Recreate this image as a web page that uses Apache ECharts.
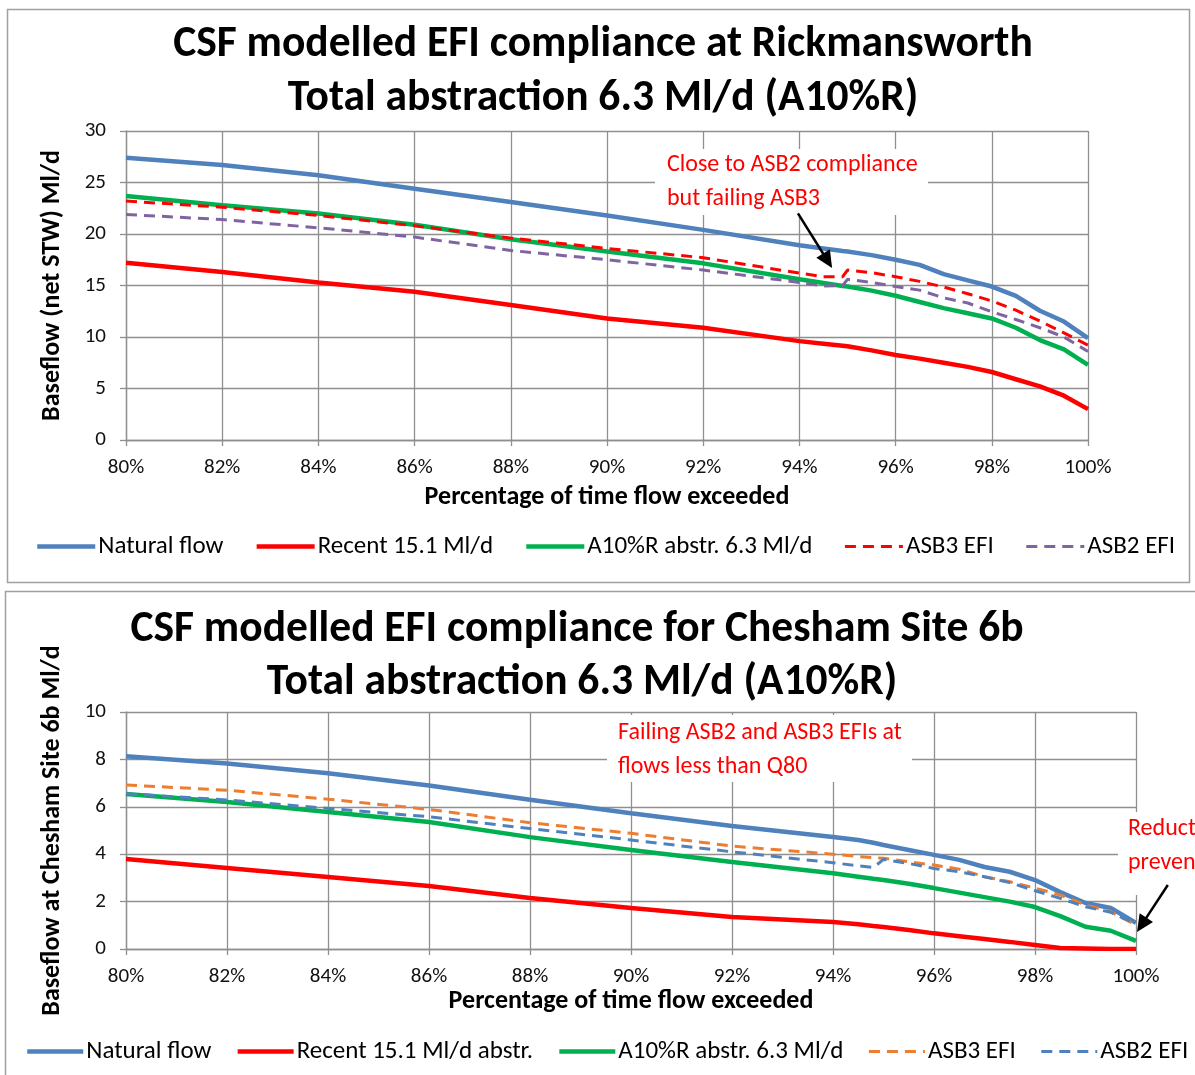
<!DOCTYPE html>
<html>
<head>
<meta charset="utf-8">
<script src="https://cdn.jsdelivr.net/npm/echarts@6/dist/echarts.min.js"></script>
<style>
  html, body { margin: 0; padding: 0; background: #fff; }
  #top, #bottom { position: absolute; left: 0; width: 1195px; }
  #top { top: 0; height: 587px; }
  #bottom { top: 587px; height: 488px; }
</style>
</head>
<body>
<div id="top"></div>
<div id="bottom"></div>
<script>
// ---- Rickmansworth: baseflow (net STW), Ml/d, against % of time exceeded ----
const rickPct     = [80, 82, 84, 86, 88, 90, 92, 94, 94.5, 94.9, 95, 95.5, 96, 96.5, 97, 97.5, 98, 98.5, 99, 99.5, 100];
const rickNatural = [27.4, 26.7, 25.7, 24.4, 23.1, 21.8, 20.4, 18.9, 18.6, 18.35, 18.3, 17.95, 17.5, 17.0, 16.1, 15.5, 14.9, 14.0, 12.55, 11.5, 9.9];
const rickRecent  = [17.2, 16.3, 15.3, 14.4, 13.1, 11.8, 10.9, 9.6, 9.35, 9.15, 9.1, 8.7, 8.25, 7.9, 7.5, 7.1, 6.6, 5.9, 5.2, 4.3, 3.0];
const rickA10R    = [23.7, 22.8, 22.0, 20.9, 19.5, 18.3, 17.15, 15.6, 15.25, 14.95, 14.9, 14.5, 14.0, 13.4, 12.8, 12.3, 11.8, 10.9, 9.7, 8.8, 7.3];
const rickAsb3    = [23.2, 22.6, 21.8, 20.8, 19.6, 18.6, 17.7, 16.2, 15.85, 15.85, 16.5, 16.25, 15.85, 15.4, 14.85, 14.2, 13.5, 12.6, 11.55, 10.4, 9.2];
const rickAsb2    = [21.9, 21.4, 20.6, 19.7, 18.4, 17.5, 16.5, 15.3, 14.95, 15.0, 15.6, 15.3, 14.9, 14.55, 13.8, 13.3, 12.45, 11.7, 10.9, 10.0, 8.6];

// ---- Chesham Site 6b: baseflow, Ml/d ----
const chesPct     = [80, 82, 84, 86, 88, 90, 92, 94, 94.5, 94.8, 95, 95.5, 96, 96.5, 97, 97.5, 98, 98.5, 99, 99.5, 100];
const chesNatural = [8.13, 7.83, 7.42, 6.9, 6.3, 5.73, 5.19, 4.73, 4.6, 4.48, 4.39, 4.18, 3.97, 3.76, 3.46, 3.26, 2.91, 2.4, 1.94, 1.73, 1.1];
const chesRecent  = [3.8, 3.42, 3.04, 2.66, 2.15, 1.73, 1.35, 1.14, 1.04, 0.97, 0.93, 0.8, 0.66, 0.54, 0.42, 0.3, 0.17, 0.04, 0.02, 0, 0];
const chesA10R    = [6.54, 6.2, 5.78, 5.36, 4.72, 4.18, 3.67, 3.2, 3.05, 2.96, 2.91, 2.75, 2.57, 2.38, 2.19, 2.0, 1.77, 1.39, 0.94, 0.77, 0.34];
const chesAsb3    = [6.92, 6.7, 6.32, 5.89, 5.33, 4.88, 4.34, 4.0, 3.9, 3.85, 3.83, 3.68, 3.54, 3.37, 3.05, 2.84, 2.57, 2.28, 1.86, 1.57, 1.01];
const chesAsb2    = [6.55, 6.29, 5.93, 5.58, 5.08, 4.6, 4.1, 3.64, 3.51, 3.44, 3.78, 3.61, 3.4, 3.26, 3.05, 2.8, 2.46, 2.14, 1.78, 1.55, 1.05];

// ---- series names (legend text) ----
const rickNames = ['Natural flow', 'Recent 15.1 Ml/d', 'A10%R abstr. 6.3 Ml/d', 'ASB3 EFI', 'ASB2 EFI'];
const chesNames = ['Natural flow', 'Recent 15.1 Ml/d abstr.', 'A10%R abstr. 6.3 Ml/d', 'ASB3 EFI', 'ASB2 EFI'];

const FONT = 'Carlito, Lato, "Open Sans", sans-serif';
const GRID_GREY = '#8f8f8f';

function pairs(xs, ys) { return xs.map((x, i) => [x, ys[i]]); }

function lineSeries(name, xs, ys, color, dashed) {
  return {
    name: name,
    type: 'line',
    data: pairs(xs, ys),
    showSymbol: false,
    symbol: 'none',
    smooth: false,
    animation: false,
    lineStyle: dashed
      ? { color: color, width: 3, type: [11, 7] }
      : { color: color, width: 4.5 },
    itemStyle: { color: color },
    z: dashed ? 4 : 3
  };
}

function axisX(name, nameGap) {
  return {
    type: 'value', min: 80, max: 100, interval: 2,
    name: name, nameLocation: 'middle', nameGap: nameGap,
    nameTextStyle: { fontFamily: FONT, fontWeight: 'bold', fontSize: 26, color: '#000' },
    axisLine: { show: true, lineStyle: { color: GRID_GREY, width: 1.3 } },
    axisTick: { show: true, length: 6, lineStyle: { color: GRID_GREY, width: 1.3 } },
    axisLabel: { formatter: v => v + '%', fontFamily: FONT, fontSize: 21, color: '#111', margin: 17 },
    splitLine: { show: true, lineStyle: { color: GRID_GREY, width: 1.3 } }
  };
}

function axisY(name, max, interval, nameGap) {
  return {
    type: 'value', min: 0, max: max, interval: interval,
    name: name, nameLocation: 'middle', nameGap: nameGap, nameRotate: 90,
    nameTextStyle: { fontFamily: FONT, fontWeight: 'bold', fontSize: 26, color: '#000' },
    axisLine: { show: true, lineStyle: { color: GRID_GREY, width: 1.3 } },
    axisTick: { show: true, length: 6, lineStyle: { color: GRID_GREY, width: 1.3 } },
    axisLabel: { fontFamily: FONT, fontSize: 21, color: '#111', margin: 20 },
    splitLine: { show: true, lineStyle: { color: GRID_GREY, width: 1.3 } }
  };
}

function titleText(text, x, y) {
  return {
    type: 'text', silent: true, z: 100,
    style: { text: text, x: x, y: y, align: 'center', verticalAlign: 'middle',
             font: 'bold 43.5px ' + FONT, fill: '#000' }
  };
}

function noteText(lines, x, y, lineGap) {
  return lines.map((t, i) => ({
    type: 'text', silent: true, z: 101,
    style: { text: t, x: x, y: y + i * lineGap, align: 'left', verticalAlign: 'middle',
             font: '24px ' + FONT, fill: '#ff0000' }
  }));
}

function whiteBox(x, y, w, h) {
  return { type: 'rect', silent: true, z: 100, shape: { x: x, y: y, width: w, height: h },
           style: { fill: '#fff' } };
}

// arrow drawn between two points given in data units
function arrow(chart, from, to) {
  const p0 = chart.convertToPixel({ gridIndex: 0 }, from);
  const p1 = chart.convertToPixel({ gridIndex: 0 }, to);
  const dx = p1[0] - p0[0], dy = p1[1] - p0[1];
  const len = Math.sqrt(dx * dx + dy * dy);
  const ux = dx / len, uy = dy / len, nx = -uy, ny = ux;
  const L = 17, W = 8;
  const bx = p1[0] - ux * L, by = p1[1] - uy * L;
  return [
    { type: 'line', silent: true, z: 102,
      shape: { x1: p0[0], y1: p0[1], x2: bx + ux * 2, y2: by + uy * 2 },
      style: { stroke: '#000', lineWidth: 2.5 } },
    { type: 'polygon', silent: true, z: 102,
      shape: { points: [[p1[0], p1[1]], [bx + nx * W, by + ny * W], [bx - nx * W, by - ny * W]] },
      style: { fill: '#000' } }
  ];
}

function legend(names, left, top, gap, iconWidth) {
  return {
    left: left, top: top, width: 1400, padding: 0,
    itemGap: gap, itemWidth: iconWidth, itemHeight: 4,
    data: names,
    itemStyle: { opacity: 0 },
    lineStyle: { width: 'inherit' },
    textStyle: { fontFamily: FONT, fontSize: 25, color: '#000', padding: [0, 0, 0, -2] }
  };
}

// ---------- Rickmansworth chart ----------
const topChart = echarts.init(document.getElementById('top'), null, { renderer: 'canvas' });
topChart.setOption({
  backgroundColor: '#fff',
  animation: false,
  grid: { left: 126, right: 107, top: 131, bottom: 147 },
  xAxis: axisX('Percentage of time flow exceeded', 44),
  yAxis: axisY('Baseflow (net STW) Ml/d', 30, 5, 61),
  legend: legend(rickNames, 35, 534, 31, 58),
  series: [
    lineSeries(rickNames[0], rickPct, rickNatural, '#4f81bd', false),
    lineSeries(rickNames[1], rickPct, rickRecent, '#ff0000', false),
    lineSeries(rickNames[2], rickPct, rickA10R, '#00b050', false),
    lineSeries(rickNames[3], rickPct, rickAsb3, '#ff0000', true),
    lineSeries(rickNames[4], rickPct, rickAsb2, '#8064a2', true)
  ]
});
topChart.setOption({
  graphic: [
    { type: 'rect', silent: true, z: 0, shape: { x: 7.5, y: 9.5, width: 1182, height: 573 },
      style: { fill: 'none', stroke: '#a0a0a0', lineWidth: 1.5 } },
    titleText('CSF modelled EFI compliance at Rickmansworth', 603, 45),
    titleText('Total abstraction 6.3 Ml/d (A10%R)', 603, 99),
    whiteBox(655, 149, 273, 66),
    ...noteText(['Close to ASB2 compliance', 'but failing ASB3'], 667, 165, 34),
    ...arrow(topChart, [93.97, 22.0], [94.68, 16.7])
  ]
});

// ---------- Chesham Site 6b chart ----------
const botChart = echarts.init(document.getElementById('bottom'), null, { renderer: 'canvas' });
botChart.setOption({
  backgroundColor: '#fff',
  animation: false,
  grid: { left: 126, right: 59, top: 125, bottom: 126 },
  xAxis: axisX('Percentage of time flow exceeded', 39),
  yAxis: axisY('Baseflow at Chesham Site 6b Ml/d', 10, 2, 61),
  legend: legend(chesNames, 25, 452, 24, 56),
  series: [
    lineSeries(chesNames[0], chesPct, chesNatural, '#4f81bd', false),
    lineSeries(chesNames[1], chesPct, chesRecent, '#ff0000', false),
    lineSeries(chesNames[2], chesPct, chesA10R, '#00b050', false),
    lineSeries(chesNames[3], chesPct, chesAsb3, '#ed7d31', true),
    lineSeries(chesNames[4], chesPct, chesAsb2, '#4f81bd', true)
  ]
});
botChart.setOption({
  graphic: [
    { type: 'rect', silent: true, z: 0, shape: { x: 5.5, y: 4.5, width: 1200, height: 600 },
      style: { fill: 'none', stroke: '#a0a0a0', lineWidth: 1.5 } },
    titleText('CSF modelled EFI compliance for Chesham Site 6b', 577, 43),
    titleText('Total abstraction 6.3 Ml/d (A10%R)', 582, 96),
    whiteBox(607, 128, 305, 67),
    ...noteText(['Failing ASB2 and ASB3 EFIs at', 'flows less than Q80'], 618, 146, 34),
    whiteBox(1118, 225, 90, 83),
    ...noteText(['Reduct', 'preven'], 1128, 242, 34),
    ...arrow(botChart, [100.63, 2.7], [100.02, 0.72])
  ]
});
</script>
</body>
</html>
